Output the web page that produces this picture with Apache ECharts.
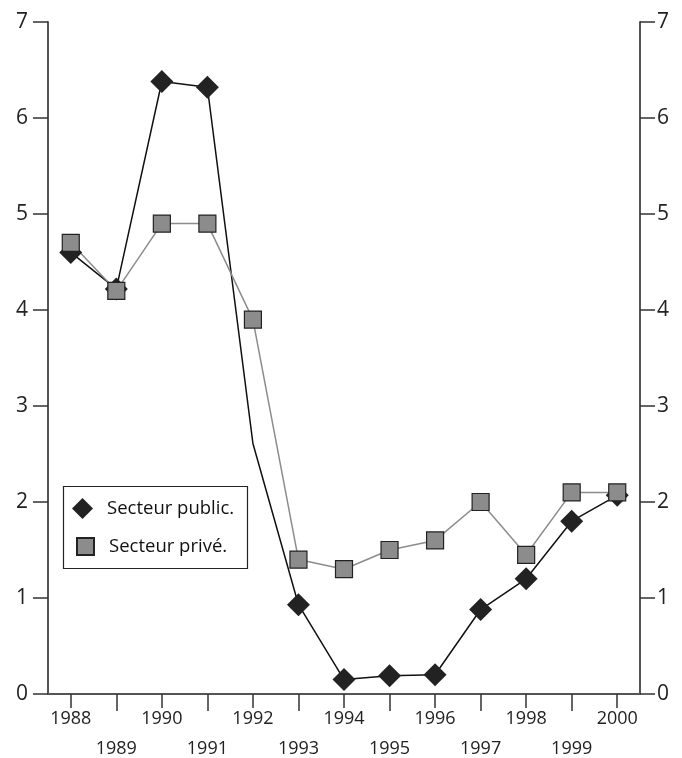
<!DOCTYPE html>
<html>
<head>
<meta charset="utf-8">
<style>
  html, body { margin: 0; padding: 0; background: #fff; }
  #chart { width: 682px; height: 758px; }
</style>
<script src="https://cdn.jsdelivr.net/npm/echarts@6/dist/echarts.min.js"></script>
</head>
<body>
<div id="chart"></div>
<script>
// données
var years = [1988, 1989, 1990, 1991, 1992, 1993, 1994, 1995, 1996, 1997, 1998, 1999, 2000];
var publicVals = [4.6, 4.22, 6.38, 6.32, 2.61, 0.93, 0.15, 0.19, 0.2, 0.88, 1.2, 1.8, 2.07];
var priveVals = [4.7, 4.2, 4.9, 4.9, 3.9, 1.4, 1.3, 1.5, 1.6, 2.0, 1.45, 2.1, 2.1];
var evenYears = [1988, 1990, 1992, 1994, 1996, 1998, 2000];
var oddYears = [1989, 1991, 1993, 1995, 1997, 1999];
var noMarkerYears = [1992]; // point sans symbole sur la courbe publique

var FONT = "'Open Sans', 'Noto Sans', sans-serif";
var AXIS = '#555';

var chart = echarts.init(document.getElementById('chart'));

var publicData = years.map(function (y, i) {
    var item = { value: [y, publicVals[i]] };
    if (noMarkerYears.indexOf(y) >= 0) item.symbol = 'none';
    return item;
});
var priveData = years.map(function (y, i) { return [y, priveVals[i]]; });

function yearLabel(v) { return String(Math.round(v)); }

function yAxis(pos, margin) {
    return {
        type: 'value',
        position: pos,
        min: 0,
        max: 7,
        interval: 1,
        axisLine: { show: true, lineStyle: { color: AXIS, width: 2 } },
        axisTick: { show: true, length: 15, lineStyle: { color: '#333', width: 1.5 } },
        axisLabel: { margin: margin, color: '#222', fontSize: 21, fontFamily: FONT },
        splitLine: { show: false }
    };
}

var option = {
    animation: false,
    backgroundColor: '#fff',
    grid: { left: 48, right: 42, top: 22, bottom: 64 },
    xAxis: [{
        type: 'value',
        min: 1987.5,
        max: 2000.5,
        axisLine: { show: true, onZero: false, lineStyle: { color: AXIS, width: 2 } },
        axisTick: { show: true, length: 14, customValues: evenYears, lineStyle: { color: '#333', width: 1.5 } },
        axisLabel: { customValues: evenYears, formatter: yearLabel, margin: 16, color: '#222', fontSize: 18, fontFamily: FONT },
        splitLine: { show: false }
    }, {
        type: 'value',
        position: 'bottom',
        offset: 26,
        min: 1987.5,
        max: 2000.5,
        axisLine: { show: false },
        axisTick: { show: true, length: 17, customValues: oddYears, lineStyle: { color: '#333', width: 1.5 } },
        axisLabel: { customValues: oddYears, formatter: yearLabel, margin: 20, color: '#222', fontSize: 18, fontFamily: FONT },
        splitLine: { show: false }
    }],
    yAxis: [yAxis('left', 20), yAxis('right', 17)],
    legend: [{
        data: [{ name: 'Secteur public.', icon: 'diamond' }],
        left: 72, top: 498, padding: 0,
        itemWidth: 21, itemHeight: 21,
        textStyle: { fontSize: 18.5, color: '#111', fontFamily: FONT, padding: [0, 0, 0, 9] }
    }, {
        data: [{ name: 'Secteur privé.', icon: 'rect' }],
        left: 76, top: 537, padding: 0,
        itemWidth: 17, itemHeight: 17,
        textStyle: { fontSize: 18.5, color: '#111', fontFamily: FONT, padding: [0, 0, 0, 10] }
    }],
    graphic: [{
        type: 'rect',
        z: -1,
        shape: { x: 63.5, y: 486.5, width: 184, height: 82 },
        style: { fill: '#fff', stroke: '#222', lineWidth: 1.2 }
    }],
    series: [{
        name: 'Secteur public.',
        type: 'line',
        data: publicData,
        symbol: 'diamond',
        symbolSize: 23,
        itemStyle: { color: '#222' },
        lineStyle: { color: '#111', width: 1.5 }
    }, {
        name: 'Secteur privé.',
        type: 'line',
        data: priveData,
        symbol: 'rect',
        symbolSize: 17,
        itemStyle: { color: '#8c8c8c', borderColor: '#222', borderWidth: 1.2 },
        lineStyle: { color: '#8c8c8c', width: 1.5 }
    }]
};

chart.setOption(option);
</script>
</body>
</html>
